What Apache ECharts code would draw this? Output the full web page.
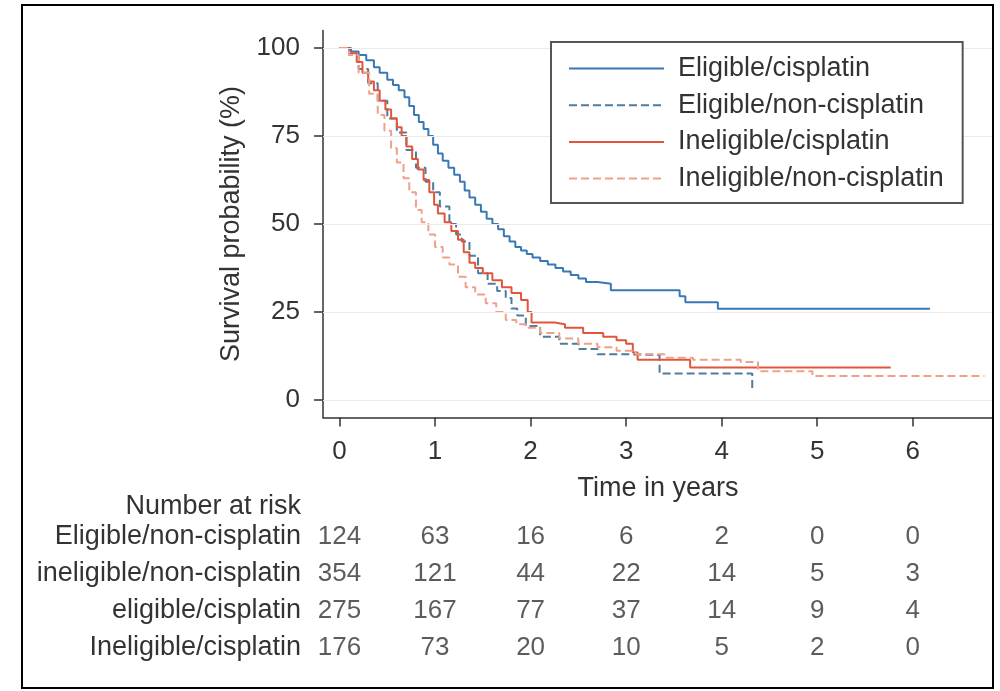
<!DOCTYPE html>
<html>
<head>
<meta charset="utf-8">
<script src="https://cdn.jsdelivr.net/npm/echarts@6/dist/echarts.min.js"></script>
<style>
html,body{margin:0;padding:0;background:#fff;}
#chart{width:1000px;height:691px;}
</style>
</head>
<body>
<div id="chart"></div>
<script>
// ---- data ----
const seriesNames = ['Eligible/cisplatin','Eligible/non-cisplatin','Ineligible/cisplatin','Ineligible/non-cisplatin'];
const eligibleCisplatin = [[0,100],[0.12,99],[0.2,98],[0.28,96.5],[0.36,94.5],[0.42,93],[0.5,91],[0.56,89.5],[0.62,88],[0.68,86],[0.73,83.5],[0.78,81],[0.83,79],[0.88,77],[0.93,75],[0.98,72.5],[1.03,70],[1.08,68],[1.14,66],[1.2,64],[1.26,62],[1.31,59.5],[1.36,57.5],[1.42,55.5],[1.48,53.5],[1.54,51.5],[1.6,50],[1.66,48.5],[1.72,46.5],[1.78,45],[1.84,43.5],[1.9,42.5],[1.96,41.5],[2.02,40.5],[2.1,39.5],[2.18,38.5],[2.26,37.5],[2.34,36.5],[2.42,35.5],[2.5,34.5],[2.58,33.5],[2.7,33],[2.84,31.2],[3.56,29.5],[3.62,27.8],[3.96,25.9],[6.18,25.9]];
const eligibleNonCisplatin = [[0,100],[0.1,98],[0.2,94],[0.3,90],[0.4,85],[0.5,80],[0.6,76],[0.7,71],[0.8,66],[0.9,62],[0.98,59],[1.05,55],[1.15,50],[1.22,47],[1.28,45],[1.36,41],[1.45,36],[1.55,33],[1.65,31],[1.74,29],[1.8,26],[1.86,24],[1.95,21],[2.1,18],[2.3,16],[2.5,14.5],[2.7,13],[3.0,12.8],[3.35,7.5],[4.32,3.3]];
const ineligibleCisplatin = [[0,100],[0.1,98.5],[0.18,96],[0.24,93],[0.3,90.5],[0.36,88],[0.42,85],[0.48,82.5],[0.54,80],[0.6,77.5],[0.65,75],[0.7,72],[0.76,68.5],[0.82,65.5],[0.88,62.5],[0.94,59],[0.99,55.5],[1.03,53],[1.1,50.5],[1.17,48],[1.24,45.5],[1.3,42],[1.36,39],[1.42,37.5],[1.5,36],[1.6,34],[1.7,32],[1.8,30.4],[1.9,28.4],[1.97,25],[2.01,22],[2.25,21.5],[2.36,20.5],[2.55,19],[2.76,18],[2.9,17],[3.0,16],[3.07,13.5],[3.12,11.4],[3.67,9.2],[5.77,9.2]];
const ineligibleNonCisplatin = [[0,100],[0.1,98],[0.2,93],[0.31,87],[0.4,81],[0.47,76.5],[0.54,71.5],[0.6,67.5],[0.67,63],[0.73,59],[0.8,54],[0.86,50.5],[0.93,47],[1.0,43.5],[1.08,40.5],[1.15,38.5],[1.24,35],[1.32,32],[1.42,30],[1.53,27.5],[1.64,25],[1.74,22.7],[1.85,21.5],[1.95,20.5],[2.1,19],[2.3,17.5],[2.5,16],[2.7,15],[2.9,14],[3.1,13],[3.4,12],[3.7,11.4],[4.2,10.8],[4.38,8.2],[4.95,6.8],[6.75,6.8]];
const yTicks = [0,25,50,75,100];
const xTicks = [0,1,2,3,4,5,6];
const riskTimes = [0,1,2,3,4,5,6];
const riskRows = ['Eligible/non-cisplatin','ineligible/non-cisplatin','eligible/cisplatin','Ineligible/cisplatin'];
const riskEligibleNon = [124,63,16,6,2,0,0];
const riskIneligibleNon = [354,121,44,22,14,5,3];
const riskEligibleCis = [275,167,77,37,14,9,4];
const riskIneligibleCis = [176,73,20,10,5,2,0];
const riskHeader = 'Number at risk';
const xTitle = 'Time in years';
const yTitle = 'Survival probability (%)';

// ---- styling ----
const FONT = 'Liberation Sans';
const FS = 27;     // words
const FN = 26;     // numbers
const TXT = '#333333';
const colors = ['#3a78b5','#4d7c9f','#e2553b','#f0a088'];
const dashes = ['solid','dashed','solid','dashed'];
const XMIN = -0.173, XMAX = 6.84;

const riskAll = [riskEligibleNon, riskIneligibleNon, riskEligibleCis, riskIneligibleCis];
const riskData = [];
riskAll.forEach((row, r) => row.forEach((v, i) => riskData.push([riskTimes[i], r, v])));

const kmData = [eligibleCisplatin, eligibleNonCisplatin, ineligibleCisplatin, ineligibleNonCisplatin];

const chart = echarts.init(document.getElementById('chart'), null, {renderer:'canvas'});
const series = kmData.map((d, i) => ({
  name: seriesNames[i],
  type: 'line',
  step: 'end',
  data: d,
  symbol: 'none',
  xAxisIndex: 0, yAxisIndex: 0,
  lineStyle: {color: colors[i], width: 2, type: dashes[i]},
  itemStyle: {color: colors[i]},
  z: 3,
  animation: false
}));
series[0].markLine = {
  silent: true, symbol: ['none','none'], animation: false,
  label: {show: false},
  lineStyle: {color: '#ebebeb', type: 'solid', width: 1},
  data: yTicks.map(v => ({yAxis: v}))
};
series.push({
  type: 'scatter', xAxisIndex: 1, yAxisIndex: 1,
  data: riskData, symbol: 'circle', symbolSize: 1,
  itemStyle: {color: 'transparent'},
  label: {show: true, position: 'inside', formatter: p => String(p.value[2]),
    fontFamily: FONT, fontSize: FN, color: TXT},
  animation: false, silent: true
});

chart.setOption({
  backgroundColor: '#fff',
  animation: false,
  textStyle: {fontFamily: FONT},
  grid: [
    {left: 323, right: 7, top: 30.4, bottom: 691 - 417.6},
    {left: 323, right: 7, top: 518.5, height: 148}
  ],
  xAxis: [
    {type: 'value', gridIndex: 0, min: XMIN, max: XMAX,
     name: xTitle, nameLocation: 'middle', nameGap: 57,
     nameTextStyle: {fontFamily: FONT, fontSize: FS, color: TXT},
     axisLine: {show: true, onZero: false, lineStyle: {color: '#333', width: 1.5}},
     axisTick: {show: true, customValues: xTicks, length: 9, lineStyle: {color: '#333', width: 1.5}},
     axisLabel: {customValues: xTicks, margin: 21, fontFamily: FONT, fontSize: FN, color: TXT},
     splitLine: {show: false}},
    {type: 'value', gridIndex: 1, min: XMIN, max: XMAX, show: false}
  ],
  yAxis: [
    {type: 'value', gridIndex: 0, min: -5, max: 105,
     name: yTitle, nameLocation: 'middle', nameGap: 78, nameRotate: 90,
     nameTextStyle: {fontFamily: FONT, fontSize: FS, color: TXT},
     axisLine: {show: true, onZero: false, lineStyle: {color: '#333', width: 1.5}},
     axisTick: {show: true, customValues: yTicks, length: 9, lineStyle: {color: '#333', width: 1.5}},
     axisLabel: {customValues: yTicks, margin: 23, fontFamily: FONT, fontSize: FN, color: TXT},
     splitLine: {show: false}},
    {type: 'category', gridIndex: 1, data: riskRows, inverse: true,
     axisLine: {show: false}, axisTick: {show: false},
     axisLabel: {margin: 22, fontFamily: FONT, fontSize: FS, color: TXT},
     splitLine: {show: false}}
  ],
  legend: {
    orient: 'vertical', left: 551, top: 42, z: 50,
    data: seriesNames,
    itemWidth: 95, itemHeight: 20, itemGap: 9.7,
    padding: [13, 19, 11, 17],
    borderColor: '#555', borderWidth: 2, backgroundColor: '#fff',
    itemStyle: {opacity: 0},
    textStyle: {fontFamily: FONT, fontSize: FS, color: TXT, padding: [0, 0, 0, 9]},
    selectedMode: false
  },
  graphic: [
    {type: 'text', right: 1000 - 301, top: 507 - 14,
     style: {text: riskHeader, fontFamily: FONT, fontSize: FS, fill: TXT, textAlign: 'right'}},
    {type: 'rect', shape: {x: 22, y: 5, width: 971, height: 683},
     style: {fill: 'none', stroke: '#000', lineWidth: 2}, z: 100, silent: true}
  ],
  series: series
});
</script>
</body>
</html>
